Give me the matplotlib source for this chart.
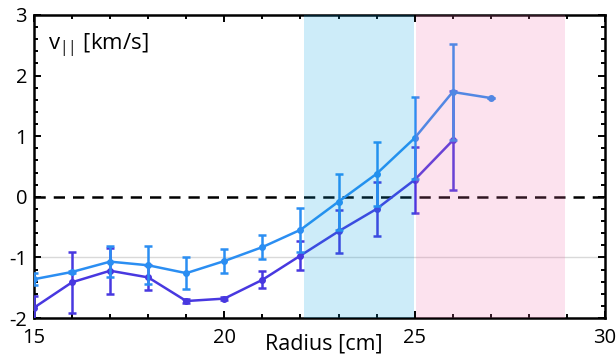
import numpy as np
import matplotlib
matplotlib.use("Agg")
import matplotlib.pyplot as plt
from matplotlib.ticker import MultipleLocator

plt.rcParams['font.family'] = ['Open Sans', 'DejaVu Sans']
plt.rcParams['mathtext.fontset'] = 'custom'
plt.rcParams['mathtext.rm'] = 'Open Sans'
plt.rcParams['mathtext.it'] = 'Open Sans:italic'
plt.rcParams['axes.unicode_minus'] = False

# Data
radius_a = [15, 16, 17, 18, 19, 20, 21, 22, 23, 24, 25, 26, 27]
v_a = [-1.36, -1.24, -1.07, -1.13, -1.26, -1.06, -0.83, -0.545, -0.08, 0.38, 0.97, 1.73, 1.63]
err_a = [0.10, 0.02, 0.25, 0.31, 0.26, 0.20, 0.20, 0.36, 0.46, 0.53, 0.67, 0.79, 0.0]

radius_b = [15, 16, 17, 18, 19, 20, 21, 22, 23, 24, 25, 26]
v_b = [-1.83, -1.41, -1.22, -1.33, -1.72, -1.68, -1.37, -0.97, -0.57, -0.20, 0.28, 0.93]
err_b = [0.20, 0.50, 0.38, 0.20, 0.03, 0.02, 0.14, 0.24, 0.35, 0.45, 0.55, 0.81]

blue_region = (22.1, 24.99)
pink_region = (25.03, 28.96)

fig = plt.figure(figsize=(6.16, 3.55), dpi=100)
ax = fig.add_axes([34/616, 37/355, 571/616, 303/355])

ax.axhline(-1, color='#d9d9d9', lw=1.0, zorder=1)
ax.axhline(0, color='black', lw=1.8, ls=(0, (4.5, 3.2)), zorder=2)

c_b = '#4838e0'
c_a = '#2b8ef2'
ax.errorbar(radius_b, v_b, yerr=err_b, color=c_b, lw=1.8, marker='o', ms=4,
            elinewidth=1.8, capsize=3, capthick=1.8, zorder=3)
ax.errorbar(radius_a, v_a, yerr=err_a, color=c_a, lw=1.8, marker='o', ms=4,
            elinewidth=1.8, capsize=3, capthick=1.8, zorder=4)

ax.axvspan(*blue_region, color=(5/255, 160/255, 225/255), alpha=0.2, lw=0, zorder=5)
ax.axvspan(*pink_region, color=(240/255, 110/255, 170/255), alpha=0.2, lw=0, zorder=5)

ax.set_xlim(15, 30)
ax.set_ylim(-2, 3)
ax.xaxis.set_major_locator(MultipleLocator(5))
ax.xaxis.set_minor_locator(MultipleLocator(1))
ax.yaxis.set_major_locator(MultipleLocator(1))
ax.yaxis.set_minor_locator(MultipleLocator(0.2))
ax.tick_params(which='both', direction='in', top=True, right=True, labelsize=14.5, width=1.4)
ax.tick_params(which='major', length=5)
ax.tick_params(which='minor', length=3)
ax.tick_params(axis='y', pad=5)
ax.tick_params(axis='x', pad=7)
for s in ax.spines.values():
    s.set_linewidth(1.8)

ax.set_xlabel('Radius [cm]', fontsize=15.5)
ax.xaxis.set_label_coords(0.507, -0.052)

ax.text(0.025, 0.945, r'v$_{\mathrm{||}}$ [km/s]', transform=ax.transAxes,
        fontsize=16, va='top', ha='left')

fig.savefig('out.png', dpi=100)
